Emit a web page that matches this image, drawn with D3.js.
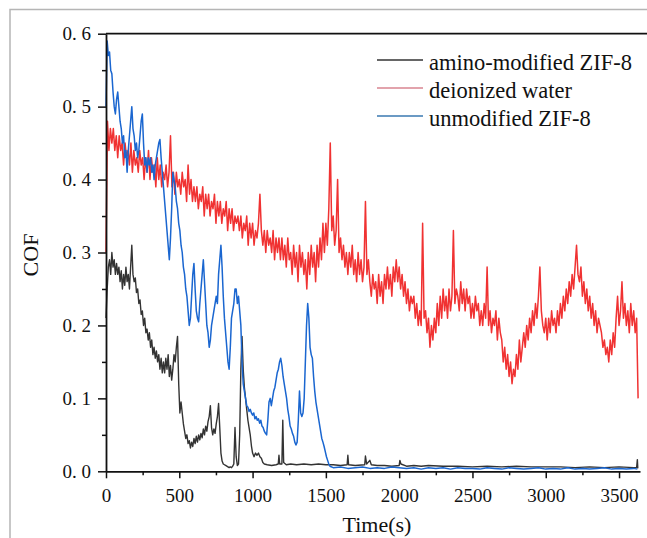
<!DOCTYPE html>
<html>
<head>
<meta charset="utf-8">
<script src="https://cdn.jsdelivr.net/npm/d3@7"></script>
<style>
  body { margin: 0; background: #fff; }
  svg text { font-family: "Liberation Serif", "Times New Roman", serif; fill: #111; }
</style>
</head>
<body>
<script>
// data
var seriesNames = ["amino-modified ZIF-8", "deionized water", "unmodified ZIF-8"];
var xTicks = [0, 500, 1000, 1500, 2000, 2500, 3000, 3500];
var yTicks = [0, 0.1, 0.2, 0.3, 0.4, 0.5, 0.6];

// deionized water: one sample every 10 s
var redStep = 10;
var redValues = [
  0.30, 0.48, 0.44, 0.47, 0.45, 0.47, 0.44, 0.46, 0.43, 0.46, 0.44, 0.45, 0.42, 0.45, 0.43, 0.44, 0.42, 0.45, 0.41, 0.44, 0.42, 0.43, 0.41, 0.44, 0.42, 0.43, 0.40, 0.43, 0.41, 0.44,
  0.40, 0.43, 0.41, 0.42, 0.39, 0.43, 0.40, 0.42, 0.39, 0.41, 0.40, 0.42, 0.39, 0.41, 0.46, 0.39, 0.41, 0.38, 0.41, 0.39, 0.40, 0.38, 0.41, 0.39, 0.40, 0.37, 0.42, 0.38, 0.40, 0.37,
  0.39, 0.37, 0.39, 0.36, 0.38, 0.37, 0.39, 0.35, 0.38, 0.36, 0.38, 0.35, 0.37, 0.36, 0.38, 0.34, 0.37, 0.35, 0.37, 0.34, 0.36, 0.35, 0.37, 0.33, 0.36, 0.34, 0.36, 0.33, 0.35, 0.34,
  0.35, 0.33, 0.35, 0.32, 0.34, 0.33, 0.35, 0.31, 0.34, 0.32, 0.34, 0.31, 0.33, 0.32, 0.34, 0.38, 0.33, 0.31, 0.33, 0.30, 0.33, 0.31, 0.32, 0.30, 0.33, 0.29, 0.32, 0.30, 0.32, 0.29,
  0.32, 0.29, 0.31, 0.28, 0.32, 0.29, 0.30, 0.27, 0.31, 0.28, 0.30, 0.26, 0.31, 0.28, 0.30, 0.27, 0.29, 0.25, 0.30, 0.27, 0.31, 0.28, 0.30, 0.26, 0.31, 0.28, 0.32, 0.29, 0.34, 0.30,
  0.34, 0.31, 0.36, 0.45, 0.33, 0.35, 0.31, 0.33, 0.40, 0.30, 0.32, 0.29, 0.31, 0.28, 0.30, 0.27, 0.30, 0.28, 0.31, 0.27, 0.29, 0.26, 0.30, 0.27, 0.29, 0.26, 0.28, 0.37, 0.27, 0.29,
  0.26, 0.24, 0.27, 0.25, 0.26, 0.23, 0.27, 0.24, 0.26, 0.23, 0.27, 0.25, 0.28, 0.25, 0.27, 0.24, 0.28, 0.26, 0.29, 0.26, 0.28, 0.25, 0.27, 0.24, 0.26, 0.23, 0.25, 0.22, 0.24, 0.23,
  0.24, 0.21, 0.23, 0.20, 0.22, 0.20, 0.34, 0.21, 0.22, 0.19, 0.21, 0.17, 0.20, 0.18, 0.21, 0.19, 0.23, 0.20, 0.24, 0.21, 0.25, 0.22, 0.24, 0.21, 0.25, 0.22, 0.24, 0.33, 0.23, 0.25,
  0.24, 0.22, 0.26, 0.23, 0.25, 0.22, 0.25, 0.23, 0.24, 0.21, 0.23, 0.21, 0.24, 0.22, 0.23, 0.20, 0.22, 0.20, 0.23, 0.21, 0.28, 0.20, 0.22, 0.19, 0.21, 0.20, 0.22, 0.18, 0.21, 0.19,
  0.18, 0.15, 0.17, 0.14, 0.16, 0.13, 0.15, 0.12, 0.14, 0.13, 0.16, 0.14, 0.18, 0.15, 0.17, 0.19, 0.17, 0.20, 0.18, 0.21, 0.19, 0.22, 0.20, 0.23, 0.21, 0.24, 0.28, 0.22, 0.20, 0.19,
  0.21, 0.18, 0.21, 0.19, 0.22, 0.20, 0.21, 0.19, 0.22, 0.20, 0.23, 0.21, 0.24, 0.22, 0.25, 0.23, 0.26, 0.24, 0.27, 0.25, 0.28, 0.31, 0.27, 0.26, 0.28, 0.24, 0.26, 0.23, 0.25, 0.22,
  0.24, 0.21, 0.23, 0.20, 0.22, 0.19, 0.21, 0.20, 0.19, 0.17, 0.18, 0.16, 0.17, 0.15, 0.18, 0.16, 0.19, 0.17, 0.21, 0.24, 0.20, 0.22, 0.26, 0.21, 0.23, 0.20, 0.22, 0.19, 0.23, 0.20,
  0.22, 0.19, 0.21, 0.10
];

// unmodified ZIF-8: one sample every 8 s up to 1528 s, then sparse readings
var blueStep = 8;
var blueValues = [
  0.50, 0.59, 0.57, 0.575, 0.55, 0.545, 0.52, 0.50, 0.49, 0.51, 0.52, 0.50, 0.48, 0.47, 0.45, 0.46, 0.43, 0.44, 0.41, 0.44, 0.46, 0.48, 0.50, 0.47, 0.46,
  0.44, 0.45, 0.43, 0.44, 0.46, 0.48, 0.49, 0.45, 0.42, 0.43, 0.41, 0.43, 0.42, 0.43, 0.41, 0.42, 0.40, 0.42, 0.43, 0.44, 0.45, 0.455, 0.43, 0.41,
  0.39, 0.37, 0.35, 0.33, 0.31, 0.29, 0.32, 0.36, 0.41, 0.40, 0.39, 0.37, 0.36, 0.34, 0.33, 0.31, 0.30, 0.28, 0.27, 0.25, 0.24, 0.22, 0.20, 0.21, 0.24,
  0.27, 0.285, 0.25, 0.22, 0.21, 0.205, 0.23, 0.25, 0.27, 0.29, 0.26, 0.23, 0.20, 0.19, 0.17, 0.18, 0.20, 0.21, 0.22, 0.23, 0.24, 0.23, 0.27, 0.29, 0.31,
  0.28, 0.24, 0.21, 0.19, 0.17, 0.15, 0.14, 0.17, 0.21, 0.22, 0.23, 0.25, 0.25, 0.23, 0.24, 0.22, 0.20, 0.15, 0.12, 0.11, 0.10, 0.09, 0.088, 0.082, 0.085,
  0.08, 0.077, 0.08, 0.072, 0.075, 0.07, 0.072, 0.066, 0.07, 0.062, 0.06, 0.055, 0.052, 0.05, 0.07, 0.095, 0.10, 0.09, 0.10, 0.11, 0.115, 0.125, 0.135, 0.14, 0.15,
  0.155, 0.145, 0.13, 0.12, 0.11, 0.10, 0.085, 0.075, 0.062, 0.058, 0.052, 0.048, 0.04, 0.036, 0.04, 0.07, 0.11, 0.08, 0.075, 0.08, 0.10, 0.15, 0.20, 0.23, 0.21,
  0.17, 0.16, 0.155, 0.13, 0.11, 0.095, 0.085, 0.075, 0.065, 0.055, 0.045, 0.04, 0.034, 0.027, 0.02, 0.015, 0.01, 0.007
];
var blueTail = [
  [1550,0.005],[1600,0.006],[1650,0.004],[1700,0.005],[1750,0.006],[1800,0.004],[1850,0.005],[1900,0.004],[1950,0.006],[2000,0.005],
  [2050,0.004],[2100,0.005],[2150,0.003],[2200,0.005],[2250,0.004],[2300,0.005],[2350,0.003],[2400,0.005],[2450,0.004],[2500,0.004],
  [2550,0.003],[2600,0.005],[2650,0.004],[2700,0.003],[2750,0.005],[2800,0.004],[2850,0.003],[2900,0.004],[2950,0.005],[3000,0.003],
  [3050,0.004],[3100,0.003],[3150,0.005],[3200,0.003],[3250,0.004],[3300,0.003],[3350,0.004],[3400,0.005],[3450,0.003],[3500,0.004],
  [3550,0.003],[3600,0.004],[3625,0.003]
];

// amino-modified ZIF-8: one sample every 8 s up to 1000 s, then sparse readings
var blackStep = 8;
var blackValues = [
  0.21, 0.25, 0.28, 0.29, 0.27, 0.30, 0.28, 0.29, 0.27, 0.285, 0.27, 0.28, 0.26, 0.275, 0.25, 0.27, 0.255, 0.28, 0.26, 0.27, 0.25, 0.28, 0.31, 0.27, 0.26,
  0.265, 0.245, 0.25, 0.23, 0.235, 0.215, 0.22, 0.20, 0.21, 0.19, 0.195, 0.18, 0.19, 0.17, 0.18, 0.16, 0.17, 0.155, 0.165, 0.15, 0.16, 0.14, 0.155, 0.135,
  0.15, 0.135, 0.155, 0.14, 0.16, 0.13, 0.145, 0.125, 0.14, 0.16, 0.15, 0.17, 0.185, 0.12, 0.08, 0.095, 0.08, 0.065, 0.055, 0.045, 0.05, 0.038, 0.042, 0.032, 0.04,
  0.034, 0.045, 0.038, 0.048, 0.04, 0.05, 0.043, 0.052, 0.046, 0.058, 0.05, 0.062, 0.055, 0.068, 0.075, 0.09, 0.06, 0.05, 0.058, 0.052, 0.065, 0.075, 0.093, 0.06, 0.025,
  0.014, 0.01, 0.009, 0.008, 0.007, 0.006, 0.005, 0.006, 0.005, 0.007, 0.01, 0.06, 0.02, 0.008, 0.01, 0.05, 0.14, 0.185, 0.14, 0.115, 0.10, 0.085, 0.07, 0.06, 0.05,
  0.035, 0.025
];
var blackTail = [
  [1010,0.02],[1020,0.025],[1030,0.022],[1040,0.025],[1050,0.02],[1060,0.018],[1070,0.012],[1080,0.01],[1100,0.009],[1130,0.008],
  [1160,0.009],[1175,0.01],[1180,0.022],[1185,0.01],[1200,0.01],[1206,0.07],[1212,0.012],[1230,0.009],[1260,0.01],[1300,0.009],
  [1350,0.01],[1400,0.009],[1450,0.01],[1500,0.009],[1550,0.009],[1600,0.008],[1645,0.009],[1650,0.022],[1655,0.009],[1700,0.008],
  [1765,0.009],[1770,0.021],[1778,0.01],[1800,0.015],[1810,0.009],[1850,0.008],[1900,0.008],[1950,0.007],[2000,0.008],[2005,0.015],
  [2012,0.01],[2050,0.007],[2100,0.008],[2150,0.007],[2200,0.008],[2300,0.007],[2400,0.007],[2500,0.006],[2600,0.007],[2700,0.006],
  [2800,0.007],[2900,0.006],[3000,0.006],[3100,0.006],[3200,0.005],[3300,0.006],[3400,0.005],[3500,0.006],[3600,0.005],[3620,0.005],
  [3625,0.016],[3628,0.004]
];

function sampled(values, step) {
  return values.map(function(v, i) { return [i * step, v]; });
}
var redData = sampled(redValues, redStep);
var blueData = sampled(blueValues, blueStep).concat(blueTail);
var blackData = sampled(blackValues, blackStep).concat(blackTail);

var colors = ["#333333", "#f03232", "#1a66d0"];
var widths = [1.4, 1.5, 1.5];
var legendColors = ["#333333", "#d98590", "#3a78b0"];

var width = 647, height = 538;
var plotLeft = 106, plotRight = 640, plotTop = 33.7, plotBottom = 471.3;

var svg = d3.select("body").append("svg")
    .attr("width", width)
    .attr("height", height);

// outer grey frame
svg.append("path")
    .attr("d", "M10," + height + "V9.5H" + width)
    .attr("fill", "none")
    .attr("stroke", "#b5b5b5")
    .attr("stroke-width", 1.5);

var x = d3.scaleLinear().domain([0, 3643]).range([plotLeft, plotRight]);
var y = d3.scaleLinear().domain([0, 0.6]).range([plotBottom, plotTop]);

var line = d3.line()
    .x(function(d) { return x(d[0]); })
    .y(function(d) { return y(d[1]); });

// curves
[blackData, redData, blueData].forEach(function(data, i) {
  svg.append("path")
      .datum(data)
      .attr("fill", "none")
      .attr("stroke", colors[i])
      .attr("stroke-width", widths[i])
      .attr("stroke-linejoin", "round")
      .attr("d", line);
});

// top border line
svg.append("line")
    .attr("x1", plotLeft).attr("x2", width)
    .attr("y1", plotTop).attr("y2", plotTop)
    .attr("stroke", "#111")
    .attr("stroke-width", 1.8);

var fmt = function(d) { return d3.format(".1f")(d).replace(".", ". "); };

// y axis
svg.append("g")
    .attr("transform", "translate(" + plotLeft + ",0)")
    .call(d3.axisLeft(y).tickValues(yTicks).tickSize(8).tickSizeOuter(0).tickPadding(7).tickFormat(fmt));
svg.append("g")
    .attr("transform", "translate(" + plotLeft + ",0)")
    .call(d3.axisLeft(y).tickValues(yTicks.slice(1).map(function(d) { return d - 0.05; }))
      .tickSize(4).tickSizeOuter(0).tickFormat(""))
    .select(".domain").remove();

// x axis
svg.append("g")
    .attr("transform", "translate(0," + plotBottom + ")")
    .call(d3.axisBottom(x).tickValues(xTicks).tickSize(7).tickSizeOuter(0).tickPadding(10).tickFormat(d3.format("d")));
svg.append("g")
    .attr("transform", "translate(0," + plotBottom + ")")
    .call(d3.axisBottom(x).tickValues(xTicks.map(function(d) { return d + 250; }))
      .tickSize(4).tickSizeOuter(0).tickFormat(""))
    .select(".domain").remove();

svg.selectAll(".domain").attr("stroke", "#111").attr("stroke-width", 1.8);
svg.selectAll(".tick line").attr("stroke", "#111").attr("stroke-width", 1.5);
svg.selectAll(".tick text")
    .style("font-family", "'Liberation Serif', 'Times New Roman', serif")
    .style("font-size", "19px")
    .attr("fill", "#111");

// axis titles
svg.append("text")
    .attr("x", 377).attr("y", 532)
    .attr("text-anchor", "middle")
    .style("font-size", "22px")
    .text("Time(s)");

svg.append("text")
    .attr("transform", "translate(38,255) rotate(-90)")
    .attr("text-anchor", "middle")
    .style("font-size", "22px")
    .text("COF");

// legend
var legend = svg.append("g").attr("transform", "translate(377,70)");
seriesNames.forEach(function(name, i) {
  var g = legend.append("g").attr("transform", "translate(0," + (i * 28) + ")");
  g.append("line")
      .attr("x1", 0).attr("x2", 46)
      .attr("y1", -10).attr("y2", -10)
      .attr("stroke", legendColors[i])
      .attr("stroke-width", 1.3);
  g.append("text")
      .attr("x", 52).attr("y", 0)
      .style("font-size", "22.5px")
      .text(name);
});
</script>
</body>
</html>
